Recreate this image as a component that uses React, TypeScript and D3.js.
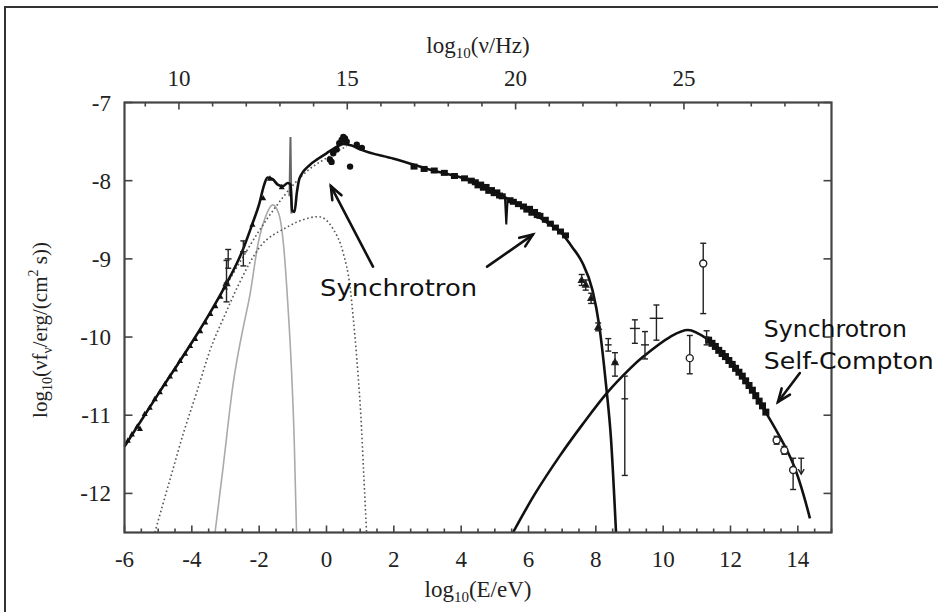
import React from 'react';
import * as d3 from 'd3';

const W = 938;
const H = 612;

// axes
const xDomain: [number, number] = [-6, 15];
const yDomain: [number, number] = [-12.5, -7];
const xLabels = [-6, -4, -2, 0, 2, 4, 6, 8, 10, 12, 14];
const yLabels = [-7, -8, -9, -10, -11, -12];
const nuLabels = [10, 15, 20, 25];
const NU_OFFSET = 14.383; // log10(nu/Hz) = log10(E/eV) + 14.383

// model curves [log E, log nuFnu]
const synchrotronTotal: [number, number][] = [
  [-6.0, -11.4], [-5.0, -10.73], [-4.0, -10.07], [-3.5, -9.72], [-3.0, -9.34], [-2.5, -8.9],
  [-2.2, -8.55], [-2.0, -8.3], [-1.85, -8.05], [-1.75, -7.96], [-1.6, -7.98], [-1.45, -8.05],
  [-1.3, -8.07], [-1.15, -8.03], [-1.07, -8.05], [-1.02, -8.38], [-0.95, -8.4], [-0.88, -8.15],
  [-0.8, -7.97], [-0.5, -7.8], [-0.25, -7.72], [0.0, -7.65], [0.25, -7.58], [0.5, -7.53],
  [0.75, -7.55], [1.0, -7.6], [2.0, -7.72], [3.0, -7.85], [4.0, -7.96], [4.5, -8.03],
  [5.0, -8.14], [5.5, -8.26], [6.0, -8.38], [6.5, -8.52], [7.0, -8.68], [7.3, -8.85],
  [7.6, -9.05], [7.9, -9.4], [8.1, -9.85], [8.3, -10.6], [8.45, -11.3], [8.6, -12.5],
];
const synchrotronOnly: [number, number][] = [
  [-3.2, -9.5], [-2.5, -8.99], [-2.0, -8.64], [-1.5, -8.33], [-1.0, -8.06], [-0.5, -7.85],
  [0.0, -7.71], [0.3, -7.63], [0.6, -7.56],
];
const secondBump: [number, number][] = [
  [-5.1, -12.5], [-4.6, -11.75], [-4.25, -11.23], [-3.85, -10.7], [-3.46, -10.17], [-3.0, -9.7],
  [-2.6, -9.32], [-2.0, -8.86], [-1.2, -8.6], [-0.7, -8.5], [-0.24, -8.46], [0.2, -8.62],
  [0.5, -8.93], [0.7, -9.36], [0.8, -9.78], [0.94, -10.5], [1.02, -11.0], [1.1, -11.7], [1.19, -12.5],
];
const thermalBump: [number, number][] = [
  [-3.31, -12.5], [-3.07, -11.66], [-2.77, -10.59], [-2.62, -10.2], [-2.47, -9.87], [-2.27, -9.45],
  [-2.03, -8.8], [-1.8, -8.45], [-1.6, -8.31], [-1.42, -8.42], [-1.27, -8.85], [-1.15, -9.57],
  [-1.04, -10.42], [-0.96, -11.3], [-0.89, -12.5],
];
const sscModel: [number, number][] = [
  [5.54, -12.5], [6.2, -12.0], [6.93, -11.52], [7.6, -11.12], [8.32, -10.72], [9.0, -10.41],
  [9.41, -10.25], [10.2, -10.0], [10.74, -9.91], [11.29, -10.02], [12.08, -10.34], [13.07, -10.98],
  [13.86, -11.62], [14.36, -12.32],
];
const lineSpike: [number, number][] = [[-1.1, -8.2], [-1.07, -7.44], [-1.04, -8.42]];
const xraySpike: [number, number][] = [[5.3, -8.22], [5.34, -8.56], [5.38, -8.24]];

// data points
const radioPoints: [number, number][] = [
  [-5.9, -11.32], [-5.78, -11.24], [-5.62, -11.14], [-5.54, -11.17], [-5.4, -10.98], [-5.25, -10.9],
  [-5.1, -10.79], [-4.95, -10.7], [-4.8, -10.6], [-4.65, -10.5], [-4.5, -10.41], [-4.35, -10.3],
  [-4.2, -10.21], [-4.05, -10.11], [-3.9, -10.02], [-3.75, -9.92], [-3.6, -9.81], [-3.45, -9.7],
  [-3.3, -9.6], [-3.15, -9.48], [-3.02, -9.36], [-2.2, -8.56], [-1.88, -8.22], [-1.68, -7.97],
  [-1.33, -8.08],
];
const opticalPoints: [number, number][] = [
  [0.1, -7.73], [0.15, -7.76], [0.2, -7.65], [0.3, -7.6], [0.38, -7.52], [0.45, -7.48],
  [0.5, -7.44], [0.55, -7.46], [0.6, -7.5], [0.7, -7.82], [0.9, -7.54], [1.05, -7.58],
];
const xrayPoints: [number, number][] = [
  [2.6, -7.82], [2.9, -7.85], [3.2, -7.87], [3.5, -7.9], [3.8, -7.94], [4.1, -7.97], [4.3, -8.0],
  [4.42, -8.02], [4.5, -8.06], [4.58, -8.05], [4.66, -8.09], [4.74, -8.08], [4.82, -8.13],
  [4.9, -8.12], [4.98, -8.16], [5.06, -8.15], [5.14, -8.19], [5.22, -8.2], [5.45, -8.25],
  [5.55, -8.27], [5.7, -8.3], [5.85, -8.33], [5.95, -8.37], [6.03, -8.36], [6.1, -8.41],
  [6.18, -8.4], [6.26, -8.44], [6.34, -8.45], [6.5, -8.5], [6.65, -8.55], [6.8, -8.6],
  [6.95, -8.65], [7.1, -8.7],
];
const gammaPoints: [number, number][] = [
  [11.35, -10.04], [11.45, -10.08], [11.55, -10.12], [11.65, -10.17], [11.75, -10.21],
  [11.85, -10.25], [11.95, -10.3], [12.05, -10.35], [12.15, -10.4], [12.25, -10.45],
  [12.35, -10.5], [12.45, -10.56], [12.55, -10.62], [12.65, -10.68], [12.75, -10.75],
  [12.85, -10.82], [12.95, -10.88], [13.05, -10.96],
];
// [logE, value, low, high, halfWidth, marker]
const errorPoints: [number, number, number, number, number, string][] = [
  [-2.97, -9.31, -9.02, -9.55, 0.08, 'tri'],
  [-2.92, -9.0, -8.88, -9.12, 0.1, 'cross'],
  [-2.47, -8.91, -8.77, -9.09, 0.1, 'cross'],
  [7.58, -9.27, -9.2, -9.34, 0.08, 'tri'],
  [7.7, -9.33, -9.27, -9.4, 0.06, 'tri'],
  [7.86, -9.5, -9.44, -9.57, 0.06, 'tri'],
  [8.07, -9.87, -9.82, -9.92, 0.06, 'tri'],
  [8.37, -10.1, -10.02, -10.18, 0.1, 'cross'],
  [8.57, -10.32, -10.2, -10.5, 0.08, 'tri'],
  [8.86, -10.79, -10.5, -11.77, 0.1, 'cross'],
  [9.16, -9.89, -9.78, -10.08, 0.15, 'cross'],
  [9.46, -10.1, -9.93, -10.28, 0.12, 'cross'],
  [9.8, -9.76, -9.59, -10.04, 0.2, 'cross'],
  [10.79, -10.27, -9.98, -10.47, 0.08, 'circle'],
  [11.19, -9.06, -8.8, -9.7, 0.08, 'circle'],
  [11.29, -10.0, -9.92, -10.1, 0.08, 'cross'],
  [13.37, -11.32, -11.27, -11.37, 0.06, 'circle'],
  [13.6, -11.45, -11.4, -11.5, 0.06, 'circle'],
  [13.86, -11.7, -11.55, -11.95, 0.08, 'circle'],
];
const upperLimits: [number, number][] = [[14.1, -11.55]];

// annotations
const arrows: [number, number, number, number][] = [
  [1.38, -9.1, 0.13, -8.07],
  [4.77, -9.1, 6.13, -8.69],
  [14.06, -10.46, 13.41, -10.83],
];
const labels: [string, number, number, number][] = [
  ['Synchrotron', -0.19, -9.48, 157],
  ['Synchrotron', 12.99, -10.0, 143],
  ['Self-Compton', 12.99, -10.41, 170],
];

const serif = '"Liberation Serif", "Times New Roman", serif';
const hand = '"DejaVu Sans", "Noto Sans", sans-serif';

export default function App() {
  const x = d3.scaleLinear().domain(xDomain).range([124.5, 831.5]);
  const y = d3.scaleLinear().domain(yDomain).range([532.5, 102.5]);
  const xNu = d3.scaleLinear().domain([xDomain[0] + NU_OFFSET, xDomain[1] + NU_OFFSET]).range([124.5, 831.5]);

  const line = d3.line<[number, number]>().x(d => x(d[0])).y(d => y(d[1])).curve(d3.curveMonotoneX);
  const smooth = d3.line<[number, number]>().x(d => x(d[0])).y(d => y(d[1])).curve(d3.curveCatmullRom);
  const poly = d3.line<[number, number]>().x(d => x(d[0])).y(d => y(d[1]));

  const [x0, x1] = x.range();
  const [y0, y1] = y.range();

  const minorX = d3.range(-6, 15.01, 0.5);
  const minorNu = d3.range(9, 29.5, 1);

  const tri = (cx: number, cy: number, s: number) =>
    `M${cx},${cy - s}L${cx + s},${cy + s * 0.8}L${cx - s},${cy + s * 0.8}Z`;

  return (
    <svg width={W} height={H} style={{ position: 'absolute', left: 0, top: 0, background: '#fff' }}>
      <rect width={W} height={H} fill="#fff" />
      {/* outer border */}
      <path d={`M5,${H}V7H${W}`} fill="none" stroke="#333" strokeWidth={2} />

      {/* curves */}
      <g fill="none">
        <path d={line(thermalBump) || ''} stroke="#aaa" strokeWidth={1.6} />
        <path d={line(secondBump) || ''} stroke="#555" strokeWidth={1.6} strokeDasharray="1.6,2.6" />
        <path d={line(synchrotronOnly) || ''} stroke="#555" strokeWidth={1.6} strokeDasharray="1.6,2.6" />
        <path d={poly(lineSpike) || ''} stroke="#666" strokeWidth={2} />
        <path d={line(synchrotronTotal) || ''} stroke="#111" strokeWidth={2.6} />
        <path d={smooth(sscModel) || ''} stroke="#111" strokeWidth={2.6} />
        <path d={poly(xraySpike) || ''} stroke="#111" strokeWidth={2} />
      </g>

      {/* data points */}
      <g fill="#111">
        {radioPoints.map((d, i) => (
          <path key={'r' + i} d={tri(x(d[0]), y(d[1]), 3)} />
        ))}
        {opticalPoints.map((d, i) => (
          <circle key={'o' + i} cx={x(d[0])} cy={y(d[1])} r={3.2} />
        ))}
        {xrayPoints.map((d, i) => (
          <rect key={'x' + i} x={x(d[0]) - 3.5} y={y(d[1]) - 3} width={7} height={6} />
        ))}
        {gammaPoints.map((d, i) => (
          <rect key={'g' + i} x={x(d[0]) - 3.5} y={y(d[1]) - 3.5} width={7} height={7} />
        ))}
      </g>
      <g stroke="#222" strokeWidth={1.4} fill="none">
        {errorPoints.map((d, i) => {
          const cx = x(d[0]);
          const cy = y(d[1]);
          const lo = y(d[2]);
          const hi = y(d[3]);
          const hw = x(d[0] + d[4]) - cx;
          return (
            <g key={'e' + i}>
              <line x1={cx} x2={cx} y1={lo} y2={hi} />
              <line x1={cx - 3} x2={cx + 3} y1={lo} y2={lo} />
              <line x1={cx - 3} x2={cx + 3} y1={hi} y2={hi} />
              <line x1={cx - hw} x2={cx + hw} y1={cy} y2={cy} />
              {d[5] === 'circle' && <circle cx={cx} cy={cy} r={3.5} fill="#fff" />}
              {d[5] === 'tri' && <path d={tri(cx, cy, 3)} fill="#111" />}
            </g>
          );
        })}
        {upperLimits.map((d, i) => {
          const cx = x(d[0]);
          const cy = y(d[1]);
          return (
            <g key={'u' + i}>
              <line x1={cx - 3} x2={cx + 3} y1={cy} y2={cy} />
              <line x1={cx} x2={cx} y1={cy} y2={cy + 16} />
              <path d={`M${cx - 3},${cy + 11}L${cx},${cy + 16}L${cx + 3},${cy + 11}`} />
            </g>
          );
        })}
      </g>

      {/* frame & ticks */}
      <g stroke="#444" strokeWidth={1.6}>
        {minorX.map(v => {
          const len = Math.abs(v % 2) < 1e-9 ? 7 : 4;
          return <line key={'bx' + v} x1={x(v)} x2={x(v)} y1={y0} y2={y0 - len} />;
        })}
        {minorNu.map(v => {
          const len = v % 5 === 0 ? 7 : 4;
          return <line key={'tn' + v} x1={xNu(v)} x2={xNu(v)} y1={y1} y2={y1 + len} />;
        })}
        {yLabels.map(v => (
          <g key={'yt' + v}>
            <line x1={x0} x2={x0 + 8} y1={y(v)} y2={y(v)} />
            <line x1={x1} x2={x1 - 8} y1={y(v)} y2={y(v)} />
          </g>
        ))}
      </g>
      <rect x={x0} y={y1} width={x1 - x0} height={y0 - y1} fill="none" stroke="#444" strokeWidth={2.2} />

      {/* tick labels */}
      <g fill="#222">
        {xLabels.map(v => (
          <text key={'xl' + v} x={x(v)} y={567} textAnchor="middle" fontFamily={serif} fontSize={23}>{v}</text>
        ))}
        {nuLabels.map(v => (
          <text key={'nl' + v} x={xNu(v)} y={86} textAnchor="middle" fontFamily={serif} fontSize={23}>{v}</text>
        ))}
        {yLabels.map(v => (
          <text key={'yl' + v} x={111} y={y(v) + 8} textAnchor="end" fontFamily={serif} fontSize={23}>{v}</text>
        ))}
      </g>

      {/* axis titles */}
      <g fontFamily={serif} fill="#222">
        <text x={478} y={53} textAnchor="middle" fontSize={23}>
          log<tspan fontSize={15} dy={5}>10</tspan><tspan dy={-5}>(ν/Hz)</tspan>
        </text>
        <text x={478} y={597} textAnchor="middle" fontSize={23}>
          log<tspan fontSize={15} dy={5}>10</tspan><tspan dy={-5}>(E/eV)</tspan>
        </text>
        <text transform="translate(47,330) rotate(-90)" textAnchor="middle" fontSize={21}>
          log<tspan fontSize={14} dy={5}>10</tspan>
          <tspan dy={-5}>(νf</tspan>
          <tspan fontSize={14} dy={5}>ν</tspan>
          <tspan dy={-5}>/erg/(cm</tspan>
          <tspan fontSize={14} dy={-9}>2</tspan>
          <tspan dy={9}> s))</tspan>
        </text>
      </g>

      {/* annotations */}
      <g stroke="#111" strokeWidth={2.6} fill="none" strokeLinecap="round">
        {arrows.map((a, i) => {
          const tx = x(a[2]);
          const ty = y(a[3]);
          const ang = Math.atan2(y(a[1]) - ty, x(a[0]) - tx);
          const hl = 14;
          const sp = 0.38;
          return (
            <g key={'a' + i}>
              <line x1={x(a[0])} y1={y(a[1])} x2={tx} y2={ty} />
              <path
                d={`M${tx + hl * Math.cos(ang + sp)},${ty + hl * Math.sin(ang + sp)}L${tx},${ty}L${
                  tx + hl * Math.cos(ang - sp)
                },${ty + hl * Math.sin(ang - sp)}`}
              />
            </g>
          );
        })}
      </g>
      <g fontFamily={hand} fontSize={23} fill="#111">
        {labels.map((l, i) => (
          <text key={'t' + i} x={x(l[1])} y={y(l[2])} textLength={l[3]} lengthAdjust="spacingAndGlyphs">
            {l[0]}
          </text>
        ))}
      </g>
    </svg>
  );
}
